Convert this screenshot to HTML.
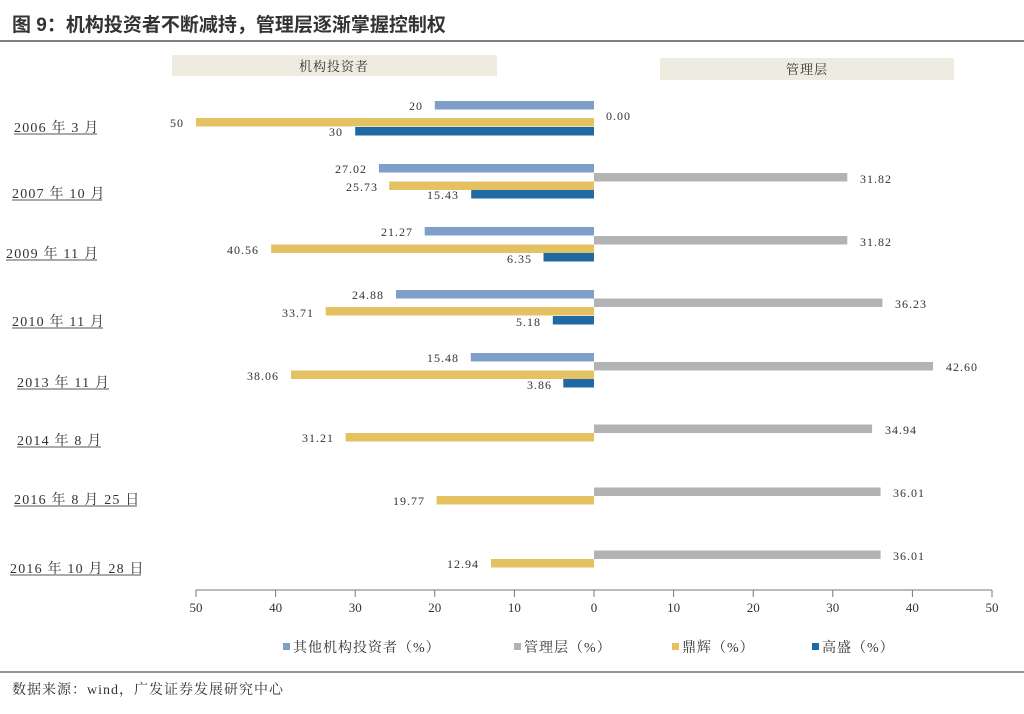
<!DOCTYPE html>
<html><head><meta charset="utf-8"><style>
html,body{margin:0;padding:0;background:#fff;width:1024px;height:714px;overflow:hidden}
svg text{font-family:"Liberation Serif","Noto Serif CJK SC",serif;fill:#333}
</style></head><body>
<svg width="1024" height="714" viewBox="0 0 1024 714" xmlns="http://www.w3.org/2000/svg">
<text x="12" y="31" font-size="19" font-weight="bold" style="font-family:'Liberation Sans','Noto Sans CJK SC',sans-serif" fill="#111">图 9：机构投资者不断减持，管理层逐渐掌握控制权</text>
<line x1="0" y1="41" x2="1024" y2="41" stroke="#555" stroke-width="1.5"/>
<rect x="172" y="55" width="325" height="21" fill="#eeece1"/>
<text x="334" y="71" font-size="13" text-anchor="middle" letter-spacing="1">机构投资者</text>
<rect x="660" y="58" width="294" height="22" fill="#eeece1"/>
<text x="807" y="74" font-size="13" text-anchor="middle" letter-spacing="1">管理层</text>

<g font-size="14" letter-spacing="1.2">
<text x="14" y="132">2006 年 3 月</text>
<text x="12" y="198">2007 年 10 月</text>
<text x="6" y="258">2009 年 11 月</text>
<text x="12" y="326">2010 年 11 月</text>
<text x="17" y="387">2013 年 11 月</text>
<text x="17" y="445">2014 年 8 月</text>
<text x="14" y="504">2016 年 8 月 25 日</text>
<text x="10" y="573">2016 年 10 月 28 日</text>
</g>
<g stroke="#555" stroke-width="1">
<line x1="14" y1="134" x2="97" y2="134"/>
<line x1="12" y1="200" x2="102" y2="200"/>
<line x1="6" y1="260" x2="97" y2="260"/>
<line x1="12" y1="328" x2="103" y2="328"/>
<line x1="17" y1="389" x2="109" y2="389"/>
<line x1="17" y1="447" x2="101" y2="447"/>
<line x1="14" y1="506" x2="137" y2="506"/>
<line x1="10" y1="575" x2="141" y2="575"/>
</g>

<g>
<rect x="434.8" y="101" width="159.2" height="8.5" fill="#7f9fc9"/>
<rect x="196" y="118" width="398" height="8.5" fill="#e5c261"/>
<rect x="355.2" y="127" width="238.8" height="8.5" fill="#1f6aa5"/>
<rect x="378.9" y="164" width="215.1" height="8.5" fill="#7f9fc9"/>
<rect x="594" y="173" width="253.3" height="8.5" fill="#b3b3b3"/>
<rect x="389.2" y="181.5" width="204.8" height="8.5" fill="#e5c261"/>
<rect x="471.2" y="190" width="122.8" height="8.5" fill="#1f6aa5"/>
<rect x="424.7" y="227" width="169.3" height="8.5" fill="#7f9fc9"/>
<rect x="594" y="236" width="253.3" height="8.5" fill="#b3b3b3"/>
<rect x="271.1" y="244.5" width="322.9" height="8.5" fill="#e5c261"/>
<rect x="543.5" y="253" width="50.5" height="8.5" fill="#1f6aa5"/>
<rect x="396" y="290" width="198" height="8.5" fill="#7f9fc9"/>
<rect x="594" y="298.5" width="288.4" height="8.5" fill="#b3b3b3"/>
<rect x="325.7" y="307" width="268.3" height="8.5" fill="#e5c261"/>
<rect x="552.8" y="316" width="41.2" height="8.5" fill="#1f6aa5"/>
<rect x="470.8" y="353" width="123.2" height="8.5" fill="#7f9fc9"/>
<rect x="594" y="362" width="339.1" height="8.5" fill="#b3b3b3"/>
<rect x="291" y="370.5" width="303" height="8.5" fill="#e5c261"/>
<rect x="563.3" y="379" width="30.7" height="8.5" fill="#1f6aa5"/>
<rect x="594" y="424.5" width="278.1" height="8.5" fill="#b3b3b3"/>
<rect x="345.6" y="433" width="248.4" height="8.5" fill="#e5c261"/>
<rect x="594" y="487.5" width="286.6" height="8.5" fill="#b3b3b3"/>
<rect x="436.6" y="496" width="157.4" height="8.5" fill="#e5c261"/>
<rect x="594" y="550.5" width="286.6" height="8.5" fill="#b3b3b3"/>
<rect x="491" y="559" width="103" height="8.5" fill="#e5c261"/>
</g>

<g font-size="12" letter-spacing="1">
<text x="423" y="110" text-anchor="end">20</text>
<text x="606" y="120">0.00</text>
<text x="184" y="127" text-anchor="end">50</text>
<text x="343" y="136" text-anchor="end">30</text>
<text x="367" y="173" text-anchor="end">27.02</text>
<text x="860" y="183">31.82</text>
<text x="378" y="191" text-anchor="end">25.73</text>
<text x="459" y="199" text-anchor="end">15.43</text>
<text x="413" y="236" text-anchor="end">21.27</text>
<text x="860" y="246">31.82</text>
<text x="259" y="254" text-anchor="end">40.56</text>
<text x="532" y="263" text-anchor="end">6.35</text>
<text x="384" y="299" text-anchor="end">24.88</text>
<text x="895" y="308">36.23</text>
<text x="314" y="317" text-anchor="end">33.71</text>
<text x="541" y="326" text-anchor="end">5.18</text>
<text x="459" y="362" text-anchor="end">15.48</text>
<text x="946" y="371">42.60</text>
<text x="279" y="380" text-anchor="end">38.06</text>
<text x="552" y="389" text-anchor="end">3.86</text>
<text x="885" y="434">34.94</text>
<text x="334" y="442" text-anchor="end">31.21</text>
<text x="893" y="497">36.01</text>
<text x="425" y="505" text-anchor="end">19.77</text>
<text x="893" y="560">36.01</text>
<text x="479" y="568" text-anchor="end">12.94</text>
</g>

<g stroke="#777" stroke-width="1">
<line x1="196" y1="590" x2="992" y2="590"/>
<line x1="196" y1="590" x2="196" y2="597"/>
<line x1="275.6" y1="590" x2="275.6" y2="597"/>
<line x1="355.2" y1="590" x2="355.2" y2="597"/>
<line x1="434.8" y1="590" x2="434.8" y2="597"/>
<line x1="514.4" y1="590" x2="514.4" y2="597"/>
<line x1="594" y1="590" x2="594" y2="597"/>
<line x1="673.6" y1="590" x2="673.6" y2="597"/>
<line x1="753.2" y1="590" x2="753.2" y2="597"/>
<line x1="832.8" y1="590" x2="832.8" y2="597"/>
<line x1="912.4" y1="590" x2="912.4" y2="597"/>
<line x1="992" y1="590" x2="992" y2="597"/>
</g>
<g font-size="13" text-anchor="middle">
<text x="196" y="612">50</text><text x="275.6" y="612">40</text><text x="355.2" y="612">30</text>
<text x="434.8" y="612">20</text><text x="514.4" y="612">10</text><text x="594" y="612">0</text>
<text x="673.6" y="612">10</text><text x="753.2" y="612">20</text><text x="832.8" y="612">30</text>
<text x="912.4" y="612">40</text><text x="992" y="612">50</text>
</g>

<g font-size="14" letter-spacing="1">
<rect x="283" y="643" width="7" height="7" fill="#7f9fc9"/><text x="293" y="652">其他机构投资者（%）</text>
<rect x="514" y="643" width="7" height="7" fill="#b3b3b3"/><text x="524" y="652">管理层（%）</text>
<rect x="672" y="643" width="7" height="7" fill="#e5c261"/><text x="682" y="652">鼎辉（%）</text>
<rect x="812" y="643" width="7" height="7" fill="#1f6aa5"/><text x="822" y="652">高盛（%）</text>
</g>

<line x1="0" y1="672" x2="1024" y2="672" stroke="#555" stroke-width="1.2"/>
<text x="12" y="694" font-size="14" fill="#222" letter-spacing="1">数据来源：wind，广发证券发展研究中心</text>
</svg>
</body></html>
